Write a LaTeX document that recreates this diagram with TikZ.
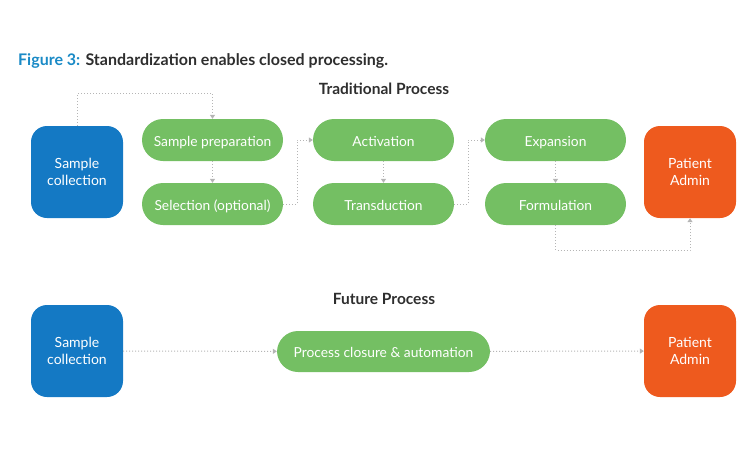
\documentclass[tikz,border=0pt]{standalone}
\usepackage{fontspec}
\setmainfont{Lato}
\usetikzlibrary{arrows.meta}
\definecolor{figblue}{HTML}{1A8AC6}
\definecolor{boxblue}{HTML}{1479C4}
\definecolor{boxgreen}{HTML}{74BF63}
\definecolor{boxorange}{HTML}{EE5A1E}
\definecolor{linegray}{HTML}{B5B5B5}
\definecolor{titlegray}{HTML}{2E2E2E}
\begin{document}
\begin{tikzpicture}[x=1pt,y=-1pt,
  pill/.style={fill=boxgreen, draw=none, rounded corners=21pt, minimum width=141pt, minimum height=42pt, inner sep=0pt, text height=12pt, text depth=0pt, text=white, font=\fontsize{13.8}{16}\selectfont},
  sq/.style={draw=none, rounded corners=16pt, minimum width=92pt, minimum height=92pt, inner sep=0pt, text=white, align=center, font=\fontsize{14}{17}\selectfont},
  conn/.style={draw=linegray, line width=1pt, dotted, -{Triangle[width=5pt,length=4pt,fill=linegray]}},
  head/.style={text=titlegray, font=\bfseries\fontsize{15.5}{17}\selectfont}
]
\useasboundingbox (0,0) rectangle (750,450);
\node[anchor=base west, inner sep=0pt, font=\bfseries\fontsize{16}{18}\selectfont] (title) at (18,65) {\textcolor{figblue}{Figure 3:} \textcolor{titlegray}{Standardization enables closed processing.}};
\node[head] (trad) at (384,89) {Traditional Process};
\node[sq, fill=boxblue] (sc1) at (77,172) {Sample\\collection};
\node[pill] (prep) at (212.5,140) {Sample preparation};
\node[pill] (sel) at (212.5,204) {Selection (optional)};
\node[pill] (act) at (383.5,140) {Activation};
\node[pill] (tra) at (383.5,204) {Transduction};
\node[pill] (exp) at (555.5,140) {Expansion};
\node[pill] (form) at (555.5,204) {Formulation};
\node[sq, fill=boxorange] (pa1) at (690,172) {Patient\\Admin};
\draw[conn] (sc1.north) -- ++(0,-32) -| (prep.north);
\draw[conn] (prep) -- (sel);
\draw[conn] (sel.east) -- ++(14,0) |- (act.west);
\draw[conn] (act) -- (tra);
\draw[conn] (tra.east) -- ++(14,0) |- (exp.west);
\draw[conn] (exp) -- (form);
\draw[conn] (form.south) -- ++(0,25) -| (pa1.south);
\node[head] (fut) at (384,299) {Future Process};
\node[sq, fill=boxblue] (sc2) at (77,351) {Sample\\collection};
\node[pill, minimum width=213pt, minimum height=41pt] (pca) at (383.5,351.5) {Process closure \& automation};
\node[sq, fill=boxorange] (pa2) at (690,351) {Patient\\Admin};
\draw[conn] (sc2) -- (pca);
\draw[conn] (pca) -- (pa2);
\end{tikzpicture}
\end{document}
